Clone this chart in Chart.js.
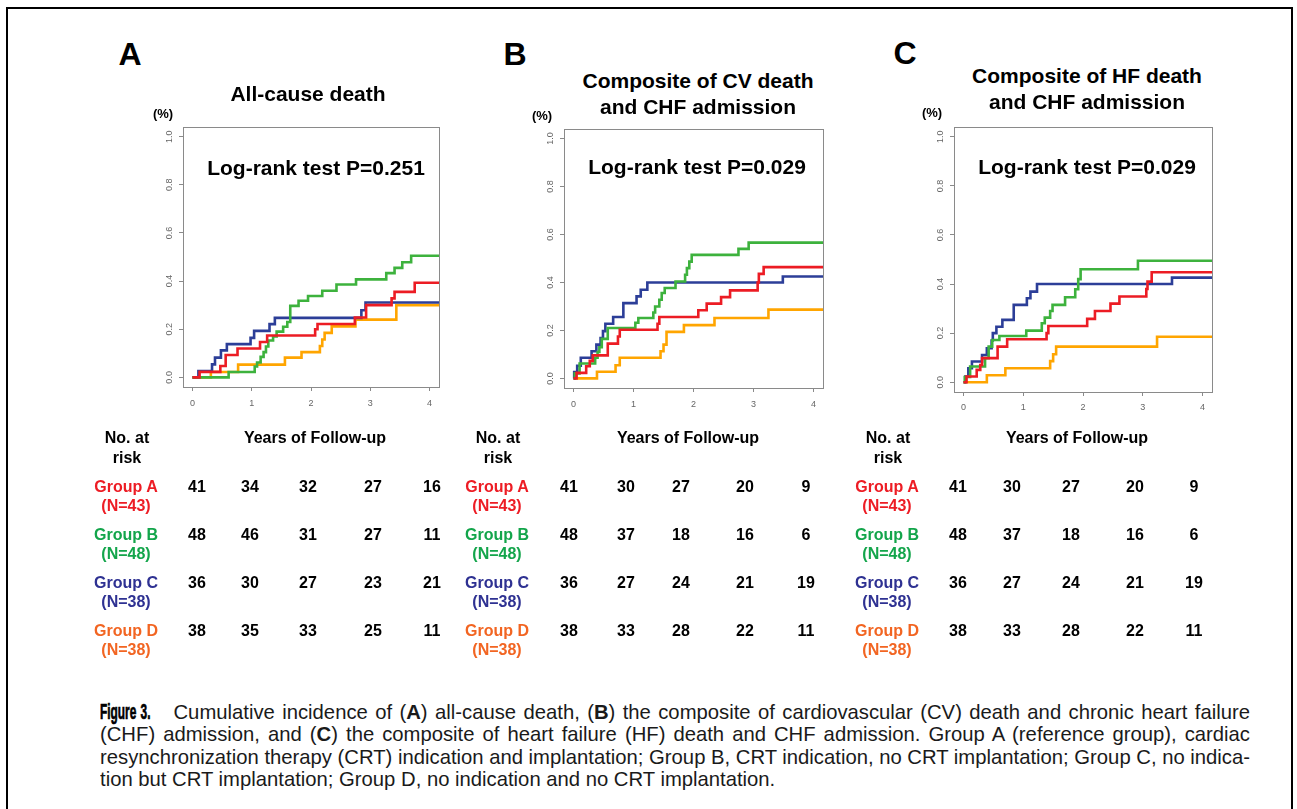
<!DOCTYPE html>
<html><head><meta charset="utf-8">
<script src="https://cdn.jsdelivr.net/npm/chart.js@4.4.1/dist/chart.umd.min.js"></script>
<style>
html,body{margin:0;padding:0;background:#fff;}
body{width:1297px;height:809px;position:relative;overflow:hidden;font-family:"Liberation Sans",Arial,sans-serif;}
.frame{position:absolute;left:6px;top:7px;width:1287px;height:830px;border:2px solid #000;box-sizing:border-box;}
.t{position:absolute;white-space:nowrap;transform:translate(-50%,-50%);font-weight:bold;line-height:1;color:#000;}
canvas{position:absolute;}
.cap{position:absolute;left:100px;font-family:"Liberation Sans",Arial,sans-serif;font-size:21px;line-height:1;color:#1a1a1a;white-space:nowrap;transform-origin:0 0;}
.cap b{font-weight:bold;}
.cap .fig{display:inline-block;font-weight:bold;font-size:22px;color:#000;transform-origin:0 50%;-webkit-text-stroke:0.7px #000;}
</style></head>
<body>
<div class="frame"></div>
<div id="root"></div>
<div class="cap" id="cap1" style="top:701px"><span class="fig" id="fig">Figure 3.</span>&nbsp;&nbsp;&nbsp;Cumulative incidence of (<b>A</b>) all-cause death, (<b>B</b>) the composite of cardiovascular (CV) death and chronic heart failure</div>
<div class="cap" id="cap2" style="top:723px">(CHF) admission, and (<b>C</b>) the composite of heart failure (HF) death and CHF admission. Group A (reference group), cardiac</div>
<div class="cap" id="cap3" style="top:746px">resynchronization therapy (CRT) indication and implantation; Group B, CRT indication, no CRT implantation; Group C, no indica-</div>
<div class="cap" id="cap4" style="top:768px">tion but CRT implantation; Group D, no indication and no CRT implantation.</div>
<script>
// ---------------- data ----------------
const xTicks = [0, 1, 2, 3, 4];
const yTicks = [0, 0.2, 0.4, 0.6, 0.8, 1.0];
const groupNames = ['Group A', 'Group B', 'Group C', 'Group D'];
const groupNs = ['(N=43)', '(N=48)', '(N=38)', '(N=38)'];
const panelLetters = ['A', 'B', 'C'];
const panelTitles = [['All-cause death'], ['Composite of CV death', 'and CHF admission'], ['Composite of HF death', 'and CHF admission']];
const logRankP = ['0.251', '0.029', '0.029'];

// Panel A: all-cause death (time in years, cumulative incidence)
const aTimeA = [0, 0.12, 0.47, 0.56, 0.76, 1.14, 1.26, 2.07, 2.11, 2.74, 2.93, 3.36, 3.41, 3.75, 4.16];
const aCumA  = [0, 0.023, 0.047, 0.093, 0.12, 0.147, 0.174, 0.20, 0.222, 0.249, 0.30, 0.328, 0.355, 0.393, 0.393];
const aTimeB = [0, 0.61, 1.05, 1.09, 1.15, 1.2, 1.24, 1.28, 1.36, 1.42, 1.53, 1.6, 1.65, 1.79, 1.95, 2.19, 2.43, 2.76, 3.27, 3.41, 3.54, 3.69, 4.16];
const aCumB  = [0, 0.022, 0.045, 0.062, 0.085, 0.105, 0.128, 0.153, 0.17, 0.19, 0.21, 0.23, 0.297, 0.318, 0.338, 0.36, 0.386, 0.407, 0.433, 0.455, 0.478, 0.505, 0.505];
const aTimeC = [0, 0.1, 0.33, 0.38, 0.48, 0.58, 0.98, 1.04, 1.3, 1.39, 2.85, 2.92, 4.16];
const aCumC  = [0, 0.026, 0.054, 0.082, 0.112, 0.138, 0.164, 0.193, 0.221, 0.247, 0.279, 0.311, 0.311];
const aTimeD = [0, 0.31, 0.77, 1.56, 1.84, 2.15, 2.19, 2.23, 2.35, 2.75, 3.44, 4.16];
const aCumD  = [0, 0.022, 0.053, 0.082, 0.105, 0.13, 0.157, 0.185, 0.212, 0.24, 0.30, 0.30];

// Panel B: CV death + CHF admission
const bTimeA = [0, 0.05, 0.21, 0.27, 0.32, 0.57, 0.74, 0.77, 1.4, 1.43, 2.08, 2.22, 2.46, 2.61, 3.07, 3.09, 3.17, 4.16];
const bCumA  = [0, 0.023, 0.051, 0.073, 0.096, 0.145, 0.175, 0.203, 0.228, 0.256, 0.284, 0.312, 0.339, 0.367, 0.40, 0.436, 0.464, 0.464];
const bTimeB = [0, 0.02, 0.1, 0.36, 0.4, 0.43, 0.47, 0.57, 1.03, 1.08, 1.33, 1.36, 1.43, 1.47, 1.52, 1.7, 1.86, 1.89, 1.93, 1.97, 2.75, 2.92, 4.16];
const bCumB  = [0, 0.021, 0.062, 0.086, 0.11, 0.13, 0.165, 0.21, 0.232, 0.252, 0.275, 0.30, 0.328, 0.356, 0.377, 0.404, 0.432, 0.46, 0.487, 0.515, 0.54, 0.566, 0.566];
const bTimeC = [0, 0.01, 0.06, 0.12, 0.3, 0.38, 0.45, 0.49, 0.53, 0.66, 0.83, 1.05, 1.12, 1.23, 3.49, 4.16];
const bCumC  = [0, 0.026, 0.053, 0.086, 0.113, 0.141, 0.168, 0.197, 0.228, 0.256, 0.314, 0.342, 0.37, 0.40, 0.425, 0.425];
const bTimeD = [0, 0.39, 0.70, 0.77, 1.45, 1.5, 1.55, 1.84, 2.35, 3.25, 4.16];
const bCumD  = [0, 0.028, 0.055, 0.086, 0.113, 0.141, 0.194, 0.222, 0.252, 0.287, 0.287];

// Panel C: HF death + CHF admission
const cTimeA = [0, 0.05, 0.22, 0.28, 0.31, 0.57, 0.73, 1.39, 1.42, 2.07, 2.2, 2.46, 2.61, 3.06, 3.08, 3.15, 4.16];
const cCumA  = [0, 0.023, 0.05, 0.07, 0.098, 0.145, 0.175, 0.2, 0.229, 0.258, 0.29, 0.32, 0.349, 0.38, 0.41, 0.448, 0.448];
const cTimeB = [0, 0.02, 0.11, 0.36, 0.42, 0.48, 0.6, 1.05, 1.31, 1.36, 1.45, 1.49, 1.7, 1.87, 1.92, 1.96, 2.92, 4.16];
const cCumB  = [0, 0.021, 0.064, 0.098, 0.145, 0.172, 0.188, 0.21, 0.24, 0.263, 0.29, 0.315, 0.346, 0.379, 0.42, 0.46, 0.495, 0.495];
const cTimeC = [0, 0.03, 0.08, 0.14, 0.31, 0.39, 0.47, 0.49, 0.55, 0.65, 0.84, 1.06, 1.12, 1.23, 3.49, 4.16];
const cCumC  = [0, 0.023, 0.057, 0.084, 0.111, 0.138, 0.17, 0.2, 0.226, 0.254, 0.315, 0.342, 0.369, 0.40, 0.426, 0.426];
const cTimeD = [0, 0.39, 0.70, 1.45, 1.5, 1.55, 3.24, 4.16];
const cCumD  = [0, 0.028, 0.057, 0.086, 0.114, 0.145, 0.185, 0.185];

// Numbers at risk at years 0..4
const riskA = [[41, 34, 32, 27, 16], [48, 46, 31, 27, 11], [36, 30, 27, 23, 21], [38, 35, 33, 25, 11]];
const riskB = [[41, 30, 27, 20, 9], [48, 37, 18, 16, 6], [36, 27, 24, 21, 19], [38, 33, 28, 22, 11]];
const riskC = [[41, 30, 27, 20, 9], [48, 37, 18, 16, 6], [36, 27, 24, 21, 19], [38, 33, 28, 22, 11]];

// ---------------- styling / layout ----------------
const lineColors = ['#ec1c24', '#3db23d', '#2c3e98', '#ffa500'];
const textColors = ['#ed1c24', '#13a54b', '#2e3192', '#f26522'];

const panels = [
  {box: {l: 183, t: 127, r: 439, b: 387}, xPad: 7, series: [[aTimeA, aCumA], [aTimeB, aCumB], [aTimeC, aCumC], [aTimeD, aCumD]], risk: riskA,
   letter: [130, 54], titleX: 308, titleY: [93], pct: [163, 113], lr: [316, 167],
   tbl: {lab: 126, nums: [197, 250, 308, 373, 432], years: 315}},
  {box: {l: 564, t: 129, r: 823, b: 388}, xPad: 7, series: [[bTimeA, bCumA], [bTimeB, bCumB], [bTimeC, bCumC], [bTimeD, bCumD]], risk: riskB,
   letter: [515, 54], titleX: 698, titleY: [80, 106], pct: [542, 115], lr: [697, 166],
   tbl: {lab: 497, nums: [569, 626, 681, 745, 806], years: 688}},
  {box: {l: 954, t: 127, r: 1212, b: 392}, xPad: 6, series: [[cTimeA, cCumA], [cTimeB, cCumB], [cTimeC, cCumC], [cTimeD, cCumD]], risk: riskC,
   letter: [905, 53], titleX: 1087, titleY: [75, 101], pct: [932, 112], lr: [1087, 166],
   tbl: {lab: 887, nums: [958, 1012, 1071, 1135, 1194], years: 1077}}
];

const root = document.getElementById('root');
function txt(s, x, y, size, color) {
  const d = document.createElement('div');
  d.className = 't';
  d.textContent = s;
  d.style.left = x + 'px';
  d.style.top = y + 'px';
  d.style.fontSize = size + 'px';
  if (color) d.style.color = color;
  root.appendChild(d);
}

const boxPlugin = {
  id: 'boxFrame',
  afterDatasetsDraw(chart) {
    const a = chart.chartArea, ctx = chart.ctx;
    ctx.save();
    ctx.strokeStyle = '#8a8a8a';
    ctx.lineWidth = 1;
    ctx.strokeRect(Math.round(a.left) + 0.5, Math.round(a.top) + 0.5, Math.round(a.right - a.left), Math.round(a.bottom - a.top));
    ctx.restore();
  }
};

const ML = 45, MT = 30, MR = 10, XH = 25, MB = 35;

panels.forEach((p, pi) => {
  const bw = p.box.r - p.box.l, bh = p.box.b - p.box.t;
  const cv = document.createElement('canvas');
  const W = bw + ML + MR, H = bh + MT + XH + MB;
  cv.width = W; cv.height = H;
  cv.style.width = W + 'px'; cv.style.height = H + 'px';
  cv.style.left = (p.box.l - ML) + 'px';
  cv.style.top = (p.box.t - MT) + 'px';
  root.appendChild(cv);

  const datasets = p.series.map((s, gi) => ({
    label: groupNames[gi],
    data: s[0].map((t, i) => ({x: t, y: s[1][i]})),
    borderColor: lineColors[gi],
    borderWidth: 2.6,
    pointRadius: 0,
    stepped: 'before',
    fill: false,
    tension: 0
  }));

  new Chart(cv, {
    type: 'line',
    data: {datasets},
    options: {
      responsive: false,
      animation: false,
      devicePixelRatio: 1,
      layout: {padding: {left: 0, top: MT, right: MR, bottom: MB}},
      plugins: {legend: {display: false}, tooltip: {enabled: false}},
      scales: {
        x: {
          type: 'linear', min: -0.16, max: 4.16,
          afterBuildTicks: s => { s.ticks = xTicks.map(v => ({value: v})); },
          afterFit: s => { s.height = XH; },
          grid: {drawOnChartArea: false, drawTicks: true, tickLength: 4, color: '#8a8a8a', lineWidth: 1},
          border: {display: false},
          ticks: {autoSkip: false, maxRotation: 0, padding: p.xPad, color: '#666', font: {family: 'Liberation Sans', size: 9}, callback: v => String(v)}
        },
        y: {
          type: 'linear', min: -0.04, max: 1.04,
          afterBuildTicks: s => { s.ticks = yTicks.map(v => ({value: v})); },
          afterFit: s => { s.width = ML; },
          grid: {drawOnChartArea: false, drawTicks: true, tickLength: 4, color: '#8a8a8a', lineWidth: 1},
          border: {display: false},
          ticks: {autoSkip: false, minRotation: 90, maxRotation: 90, crossAlign: 'center', padding: 3, color: '#666', font: {family: 'Liberation Sans', size: 9}, callback: v => Number(v).toFixed(1)}
        }
      }
    },
    plugins: [boxPlugin]
  });

  // texts
  txt(panelLetters[pi], p.letter[0], p.letter[1], 32);
  panelTitles[pi].forEach((s, k) => txt(s, p.titleX, p.titleY[k], 21));
  txt('(%)', p.pct[0], p.pct[1], 13);
  txt('Log-rank test P=' + logRankP[pi], p.lr[0], p.lr[1], 21);

  // risk table
  txt('No. at', p.tbl.lab + 1, 438, 16);
  txt('risk', p.tbl.lab + 1, 458, 16);
  txt('Years of Follow-up', p.tbl.years, 438, 16);
  groupNames.forEach((g, gi) => {
    const y = 487 + gi * 48;
    txt(g, p.tbl.lab, y, 16, textColors[gi]);
    txt(groupNs[gi], p.tbl.lab, y + 19, 16, textColors[gi]);
    p.risk[gi].forEach((n, k) => txt(String(n), p.tbl.nums[k], y, 16));
  });
});

// ---- caption: condensed bold label, then horizontal condense + justify ----
(function () {
  const fig = document.getElementById('fig');
  const fw = fig.getBoundingClientRect().width;
  const fs = 0.56;
  fig.style.transform = 'scaleX(' + fs + ')';
  fig.style.marginRight = (-(fw * (1 - fs))) + 'px';

  const TARGET = 1150;
  const els = ['cap1', 'cap2', 'cap3'].map(id => document.getElementById(id));
  const widths = els.map(e => e.getBoundingClientRect().width);
  const s = Math.min(...widths.map(w => TARGET / w));
  els.forEach((e, i) => {
    const nSp = (e.textContent.match(/[ \u00a0]/g) || []).length;
    const extra = (TARGET / s - widths[i]) / Math.max(1, nSp);
    e.style.wordSpacing = extra + 'px';
    e.style.transform = 'scaleX(' + s + ')';
  });
  document.getElementById('cap4').style.transform = 'scaleX(' + s + ')';
})();
</script>
</body></html>
